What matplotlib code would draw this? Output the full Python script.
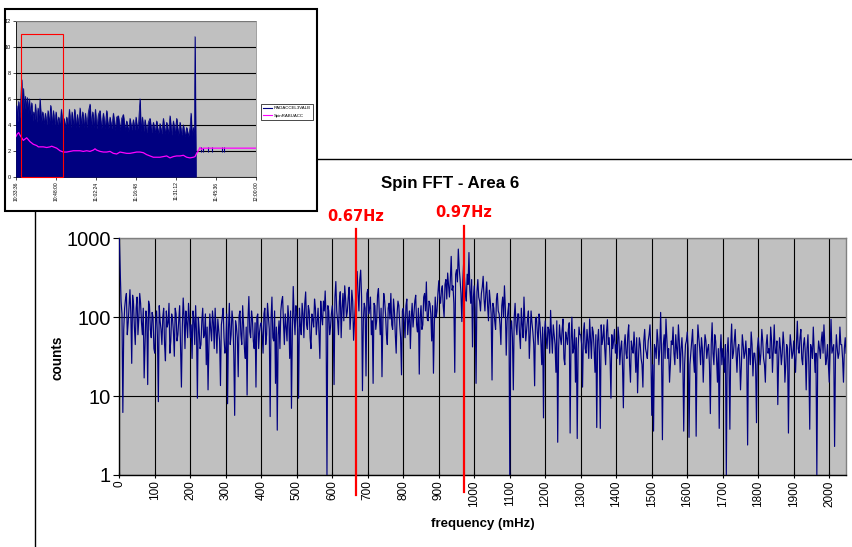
import numpy as np
import matplotlib
matplotlib.use("Agg")
import matplotlib.pyplot as plt
from matplotlib import font_manager
from matplotlib.lines import Line2D
from matplotlib.patches import Rectangle
import matplotlib.transforms as mtransforms

# ---------------- data: main FFT ----------------
# bins on a 5 mHz grid (0, 5, 10, ...)
freq_step_mhz = 5
counts = [
    1000, 160, 6.2, 130, 200, 85, 223, 26, 150, 45, 180, 95, 150, 60, 17, 120, 14, 140, 55, 100,
    35, 120, 8.5, 90, 45, 130, 28, 75, 150, 50, 95, 32, 110, 60, 140, 13, 175, 40, 85, 150,
    55, 30, 95, 140, 9.4, 70, 45, 130, 60, 25, 12, 110, 50, 85, 130, 35, 70, 13.6, 100, 55,
    40, 8, 150, 60, 90, 5.7, 75, 17.6, 120, 45, 80, 30, 10.3, 183, 55, 95, 40, 13, 110, 65,
    85, 35, 130, 60, 100, 5.5, 180, 50, 14.5, 3.7, 90, 120, 183, 45, 75, 140, 30, 7, 245, 60,
    110, 9.4, 80, 150, 55, 209, 70, 120, 40, 95, 170, 60, 130, 30, 100, 160, 215, 1, 120, 75,
    140, 14, 283, 90, 160, 55, 200, 250, 100, 180, 70, 220, 51, 150, 380, 120, 395, 11.7, 150, 18,
    225, 130, 60, 14.5, 140, 90, 230, 60, 17.6, 200, 110, 45, 150, 200, 70, 120, 35, 160, 80, 18.6,
    130, 55, 170, 90, 40, 150, 110, 190, 65, 19, 140, 80, 200, 280, 90, 150, 50, 19.5, 180, 120,
    290, 150, 250, 100, 300, 363, 180, 590, 250, 20, 400, 730, 300, 88, 486, 200, 350, 660, 150, 42,
    250, 14.5, 300, 160, 200, 330, 120, 280, 90, 160, 16, 130, 70, 200, 110, 45, 180, 250, 33, 120,
    1, 90, 12, 150, 60, 110, 40, 80, 180, 50, 95, 30, 120, 65, 13.5, 100, 45, 85, 25, 5.3,
    90, 40, 70, 122, 35, 60, 20, 2.6, 80, 45, 95, 25, 55, 70, 3.4, 100, 40, 15, 2.9, 75,
    60, 13, 85, 35, 50, 95, 30, 65, 20, 4, 70, 3.9, 45, 80, 25, 93, 55, 9.4, 40, 70,
    45, 75, 25, 50, 7.1, 60, 30, 80, 15, 40, 65, 20, 11, 55, 30, 13, 70, 35, 50, 80,
    5.7, 3.6, 40, 70, 25, 115, 2.8, 60, 95, 30, 15, 50, 75, 25, 40, 80, 20, 55, 3.6, 45,
    65, 3, 35, 70, 20, 3.1, 80, 40, 55, 15, 60, 30, 45, 6, 85, 25, 50, 15, 3.9, 60,
    40, 20, 1, 55, 3.8, 82, 35, 70, 20, 45, 12, 60, 30, 50, 2.4, 40, 65, 18, 35, 4.6,
    55, 25, 70, 30, 15, 60, 40, 75, 20, 80, 35, 7.8, 55, 25, 65, 15, 45, 3.4, 60, 30,
    50, 20, 89, 35, 70, 25, 55, 12, 60, 3.8, 40, 75, 20, 1, 50, 30, 65, 80, 25, 45,
    15, 94, 40, 2.3, 60, 30, 75, 45, 15, 55,
]
# bins half-way between (2.5, 7.5, 12.5, ...)
counts_mid = [
    400, 110, 70, 170, 60, 140, 110, 190, 75, 130, 60, 200, 85, 130, 45, 95, 160, 70, 115, 40,
    90, 55, 140, 70, 100, 45, 120, 85, 35, 110, 65, 130, 50, 90, 40, 75, 100, 120, 55, 95,
    80, 120, 45, 65, 100, 40, 90, 55, 110, 75, 45, 70, 120, 40, 65, 95, 50, 80, 130, 35,
    110, 70, 45, 120, 35, 90, 55, 105, 60, 140, 40, 75, 95, 65, 120, 50, 85, 100, 40, 80,
    60, 110, 45, 150, 70, 95, 55, 120, 75, 60, 40, 160, 85, 110, 50, 95, 120, 65, 100, 140,
    70, 130, 60, 110, 150, 80, 140, 55, 110, 75, 130, 90, 60, 160, 80, 120, 95, 140, 60, 110,
    90, 180, 120, 60, 210, 130, 90, 170, 120, 240, 110, 160, 90, 260, 200, 300, 180, 90, 130, 200,
    110, 180, 90, 150, 70, 190, 110, 130, 90, 160, 60, 130, 95, 80, 170, 60, 110, 140, 55, 120,
    90, 140, 60, 120, 100, 75, 160, 80, 130, 100, 70, 180, 120, 95, 160, 110, 140, 80, 100, 200,
    180, 220, 140, 260, 170, 250, 300, 220, 150, 350, 280, 420, 200, 280, 320, 160, 260, 220, 300, 180,
    130, 210, 180, 120, 240, 170, 200, 140, 220, 110, 150, 90, 170, 120, 80, 140, 100, 130, 90, 150,
    70, 55, 100, 80, 110, 60, 130, 55, 90, 70, 120, 60, 85, 45, 95, 65, 110, 50, 75, 60,
    55, 75, 35, 60, 80, 45, 90, 40, 55, 70, 30, 65, 45, 85, 50, 35, 70, 55, 40, 60,
    45, 65, 40, 70, 30, 55, 75, 40, 60, 50, 35, 80, 55, 40, 65, 45, 30, 60, 50, 35,
    30, 55, 40, 25, 45, 35, 60, 25, 50, 35, 40, 55, 30, 45, 25, 50, 40, 30, 60, 35,
    25, 45, 30, 50, 40, 35, 45, 30, 55, 40, 25, 45, 35, 60, 30, 50, 40, 30, 25, 50,
    40, 25, 50, 30, 45, 35, 55, 25, 40, 35, 50, 40, 25, 45, 35, 60, 30, 40, 35, 25,
    30, 45, 35, 25, 45, 30, 50, 35, 40, 30, 25, 45, 35, 30, 40, 25, 45, 35, 25, 40,
    40, 35, 50, 25, 45, 35, 30, 50, 40, 35, 50, 30, 40, 35, 45, 25, 40, 30, 45, 35,
    30, 45, 40, 55, 30, 45, 35, 40, 25, 45, 30, 40, 35, 30, 40, 50, 35, 45, 30, 25,
    40, 35, 45, 30, 40, 35, 45, 30, 40, 35,
]
freqs = np.empty(2 * len(counts))
freqs[0::2] = np.arange(len(counts)) * freq_step_mhz
freqs[1::2] = np.arange(len(counts_mid)) * freq_step_mhz + freq_step_mhz / 2
all_counts = np.empty(2 * len(counts))
all_counts[0::2] = counts
all_counts[1::2] = counts_mid

x_ticks = list(range(0, 2001, 100))
y_ticks = [1, 10, 100, 1000]
y_tick_labels = ["1", "10", "100", "1000"]

marker_freqs = [667, 970]
marker_labels = ["0.67Hz", "0.97Hz"]

# ---------------- data: inset time series ----------------
inset_time_labels = ["10:33:36", "10:48:00", "11:02:24", "11:16:48", "11:31:12", "11:45:36", "12:00:00"]
inset_time_ticks = [0, 14.4, 28.8, 43.2, 57.6, 72.0, 86.4]   # minutes after 10:33:36

accel_t = [0, 0.24, 0.6, 0.96, 1.32, 1.68, 2.04, 2.28, 2.64, 3.0, 3.36, 3.72, 4.08, 4.44, 4.8, 5.16,
           5.64, 6.0, 6.36, 6.72, 6.96, 7.44, 7.92, 8.28, 8.64, 9.12, 9.6, 10.08, 10.56, 11.04, 11.52,
           12.0, 12.48, 12.96, 13.44, 13.92, 14.4, 14.88, 15.36, 15.84, 16.32, 16.8, 17.28, 17.76,
           18.24, 18.72, 19.2, 19.68, 20.16, 20.64, 21.12, 21.6, 22.08, 22.56, 23.04, 23.52, 24.0,
           24.48, 24.96, 25.44, 26.04, 26.64, 27.12, 27.6, 28.08, 28.56, 29.04, 29.64, 30.24, 30.72,
           31.44, 32.04, 32.64, 33.24, 33.84, 34.44, 35.04, 35.64, 36.24, 36.84, 37.44, 38.04, 38.64,
           39.24, 39.84, 40.44, 41.04, 41.64, 42.24, 42.72, 43.2, 43.68, 44.16, 44.64, 45.0, 45.48,
           45.96, 46.44, 47.04, 47.64, 48.24, 48.84, 49.44, 50.04, 50.64, 51.24, 51.84, 52.44, 53.04,
           53.64, 54.24, 54.84, 55.44, 56.04, 56.64, 57.24, 57.84, 58.44, 59.04, 59.64, 60.24, 60.84,
           61.44, 62.04, 62.64, 63.0, 63.36, 63.84, 64.2, 64.44, 64.68, 64.8]
accel_v = [3.0, 5.5, 4.2, 5.8, 4.5, 5.9, 7.5, 4.8, 6.8, 5.0, 6.2, 5.2, 6.1, 4.9, 6.0, 4.6,
           5.7, 4.3, 5.0, 4.4, 5.6, 4.2, 5.3, 4.3, 6.0, 4.2, 5.0, 4.1, 4.9, 4.0, 5.1,
           4.1, 5.5, 4.0, 5.1, 4.0, 5.0, 3.9, 4.6, 3.9, 5.2, 3.8, 4.5, 3.8,
           4.6, 3.8, 5.2, 3.8, 5.0, 3.9, 5.2, 3.8, 4.8, 3.8, 5.3, 3.9, 5.0,
           3.8, 4.9, 3.8, 5.0, 5.6, 3.8, 5.0, 3.8, 5.2, 3.7, 4.8, 5.1, 3.7,
           4.9, 3.7, 5.1, 3.7, 4.6, 3.7, 4.9, 3.6, 4.6, 4.7, 3.6, 4.5, 4.8,
           3.6, 4.3, 3.5, 4.5, 3.6, 4.4, 3.6, 4.6, 3.6, 4.3, 6.0, 3.5, 4.6,
           3.5, 4.4, 3.4, 4.2, 4.5, 3.4, 4.2, 3.4, 4.3, 3.3, 4.1, 3.3, 4.5,
           3.3, 4.2, 3.3, 4.7, 3.2, 4.3, 3.3, 4.5, 3.2, 4.2, 3.2, 4.0, 3.1,
           3.8, 3.1, 3.8, 4.9, 3.2, 3.8, 3.2, 10.8, 3.5, 0.0]
accel_late_t = [66.6, 67.2, 69.24, 70.68, 74.04, 74.88]
accel_late_lo = [1.9, 1.9, 1.9, 1.9, 1.9, 1.9]
accel_late_hi = [2.3, 2.2, 2.3, 2.3, 2.3, 2.3]

spin_t = [0, 0.48, 0.96, 1.44, 2.04, 2.64, 3.24, 3.84, 4.44, 5.04, 5.64, 6.24, 6.84, 7.44, 8.04, 8.64,
          9.84, 11.04, 12.24, 12.84, 13.44, 14.04, 14.64, 15.24, 15.84, 16.44, 17.04, 18.24, 19.44,
          20.64, 21.84, 23.04, 24.24, 25.44, 26.64, 27.84, 28.44, 29.04, 30.24, 31.44, 32.64, 33.84,
          35.04, 36.24, 37.44, 38.64, 39.84, 41.04, 42.24, 43.44, 44.64, 45.84, 47.04, 48.24, 49.44,
          50.64, 51.84, 53.04, 54.24, 55.44, 56.64, 57.84, 59.04, 60.24, 61.44, 62.64, 63.84, 64.44,
          65.04, 65.64, 66.24, 66.84, 67.44, 86.4]
spin_v = [3.1, 3.3, 3.4, 3.2, 3.0, 2.8, 2.9, 3.0, 2.85, 2.7, 2.6, 2.5, 2.45, 2.4, 2.3, 2.3,
          2.3, 2.25, 2.3, 2.35, 2.3, 2.25, 2.2, 2.1, 2.0, 1.95, 1.9, 1.9, 1.95,
          2.0, 2.0, 2.0, 1.95, 2.0, 1.95, 2.05, 2.15, 2.05, 1.95, 1.9, 1.9, 1.95,
          1.8, 1.75, 1.9, 1.85, 1.8, 1.8, 1.85, 1.9, 1.9, 1.85, 1.7, 1.6, 1.5,
          1.5, 1.5, 1.55, 1.6, 1.45, 1.55, 1.6, 1.6, 1.65, 1.5, 1.45, 1.5, 1.55,
          1.8, 2.0, 2.25, 2.1, 2.2, 2.2]
inset_series_names = ["RADACCEL3VALB", "SpinRABUACC"]
inset_window = (1.8, 16.8, 11.0)   # highlighted window: start, end (minutes), height

# ---------------- style ----------------
names = {f.name for f in font_manager.fontManager.ttflist}
SANS = "Liberation Sans" if "Liberation Sans" in names else "DejaVu Sans"
NARROW = "Liberation Sans Narrow" if "Liberation Sans Narrow" in names else SANS
plt.rcParams["font.family"] = [SANS, "DejaVu Sans"]

NAVY = "#000080"
SILVER = "#C0C0C0"
RED = "#FF0000"
MAGENTA = "#FF00FF"

W, H = 852, 547
fig = plt.figure(figsize=(W / 100, H / 100), dpi=100)
fig.patch.set_facecolor("white")

def fx(px):
    return px / W

def fy(py):
    return 1 - py / H

# outer chart frame (partially hidden by inset)
fig.add_artist(Line2D([fx(35), fx(35)], [fy(205), fy(547)], color="black", lw=1.0, zorder=1))
fig.add_artist(Line2D([fx(300), fx(852)], [fy(159), fy(159)], color="black", lw=1.0, zorder=1))

# ---------------- main axes ----------------
ax = fig.add_axes([fx(119.3), fy(475), (846.3 - 119.3) / W, (475 - 238.3) / H])
ax.set_zorder(2)
ax.set_facecolor(SILVER)
ax.plot(freqs, all_counts, color=NAVY, lw=0.85, zorder=3)
ax.set_yscale("log")
ax.set_xlim(0, 2048)
ax.set_ylim(1, 1000)
ax.set_xticks(x_ticks)
ax.set_xticklabels([str(v) for v in x_ticks], rotation=90, fontsize=8.5)
ax.set_yticks(y_ticks)
ax.set_yticklabels(y_tick_labels, fontsize=14.5)
ax.yaxis.set_minor_locator(matplotlib.ticker.NullLocator())
ax.set_axisbelow(True)
ax.grid(True, which="major", color="black", lw=0.8)
ax.tick_params(axis="x", length=4, width=0.8, pad=2, direction="inout")
ax.tick_params(axis="y", length=4, width=0.8, pad=2)
for s in ["left", "bottom"]:
    ax.spines[s].set_color("black")
    ax.spines[s].set_linewidth(1.0)
for s in ["top", "right"]:
    ax.spines[s].set_color("#808080")
    ax.spines[s].set_linewidth(1.0)

blend = mtransforms.blended_transform_factory(ax.transData, ax.transAxes)
line_tops = [1.039, 1.052]
line_bottoms = [-0.085, -0.071]
label_ys = [1.094, 1.107]
for f, lab, yt, yb, yl in zip(marker_freqs, marker_labels, line_tops, line_bottoms, label_ys):
    ax.plot([f, f], [yb, yt], color=RED, lw=1.6, transform=blend, clip_on=False, zorder=5)
    ax.text(f, yl, lab, transform=blend, color=RED, fontsize=10.5, fontweight="bold",
            family=["DejaVu Sans"], ha="center", va="center")

fig.text(fx(450), fy(184), "Spin FFT - Area 6", fontsize=12.2, fontweight="bold",
         family=[NARROW, SANS], ha="center", va="center")
fig.text(fx(58), fy(358), "counts", fontsize=9.8, fontweight="bold", rotation=90,
         family=[NARROW, SANS], ha="center", va="center")
fig.text(fx(483), fy(524), "frequency (mHz)", fontsize=9.5, fontweight="bold",
         family=[NARROW, SANS], ha="center", va="center")

# ---------------- inset ----------------
fig.add_artist(Rectangle((fx(5), fy(211)), fx(317) - fx(5), fy(9) - fy(211),
                         transform=fig.transFigure, facecolor="white", edgecolor="black",
                         lw=1.5, zorder=5))
ax2 = fig.add_axes([fx(16), fy(176.7), (256 - 16) / W, (176.7 - 21) / H])
ax2.set_zorder(6)
ax2.set_facecolor(SILVER)
ax2.set_xlim(inset_time_ticks[0], inset_time_ticks[-1])
ax2.set_ylim(0, 12)
ax2.set_axisbelow(True)
ax2.set_yticks(range(0, 13, 2))
ax2.set_yticklabels([str(v) for v in range(0, 13, 2)], fontsize=4)
ax2.set_xticks(inset_time_ticks)
ax2.set_xticklabels(inset_time_labels, rotation=90, fontsize=3.6)
ax2.grid(True, axis="y", color="black", lw=0.8)
ax2.tick_params(length=2, width=0.5, pad=1.5)
for s in ["left", "bottom"]:
    ax2.spines[s].set_color("black")
    ax2.spines[s].set_linewidth(0.6)
for s in ["top", "right"]:
    ax2.spines[s].set_color("#909090")
    ax2.spines[s].set_linewidth(0.6)

ax2.fill_between(accel_t, 0, accel_v, color=NAVY, lw=0.4, zorder=3)
ax2.plot(accel_t, accel_v, color=NAVY, lw=0.5, zorder=3)
ax2.vlines(accel_late_t, accel_late_lo, accel_late_hi, color=NAVY, lw=0.8, zorder=3)
ax2.plot(spin_t, spin_v, color=MAGENTA, lw=0.9, zorder=4)
ax2.add_patch(Rectangle((inset_window[0], 0), inset_window[1] - inset_window[0], inset_window[2],
                        fill=False, edgecolor=RED, lw=0.8, zorder=5, clip_on=False))

handles = [Line2D([], [], color=NAVY, lw=0.8), Line2D([], [], color=MAGENTA, lw=0.8)]
leg = ax2.legend(handles, inset_series_names, loc="center left",
                 bbox_to_anchor=(fx(261), fy(112)), bbox_transform=fig.transFigure,
                 fontsize=3.2, frameon=True, fancybox=False, framealpha=1,
                 edgecolor="black", borderpad=0.5, handlelength=2.0, labelspacing=0.8,
                 handletextpad=0.3, borderaxespad=0)
leg.get_frame().set_linewidth(0.5)

fig.savefig("out.png", dpi=100)
